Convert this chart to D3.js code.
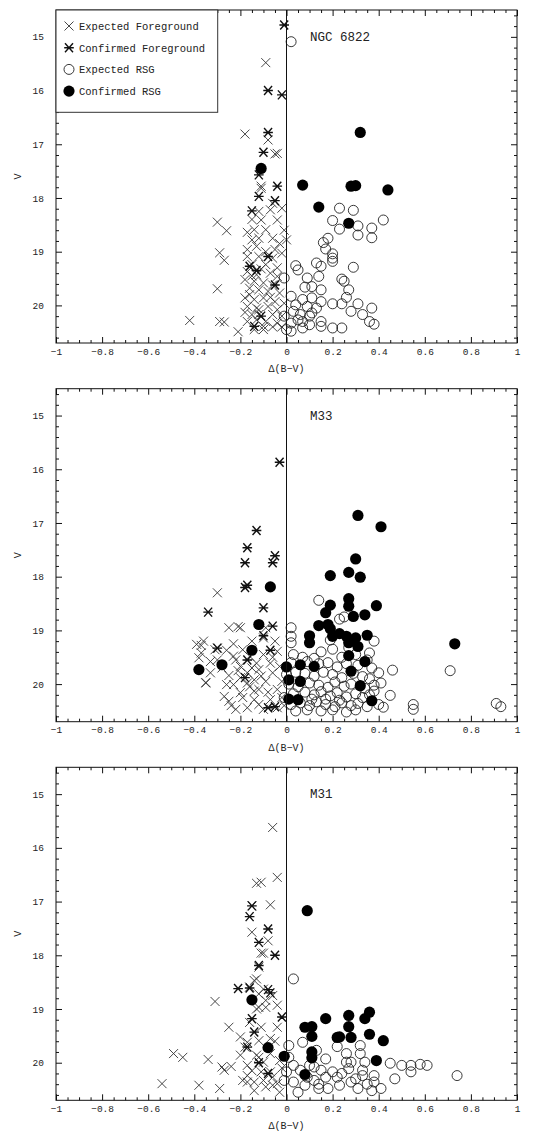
<!DOCTYPE html>
<html>
<head>
<meta charset="utf-8">
<script src="https://cdn.jsdelivr.net/npm/d3@7/dist/d3.min.js"></script>
<style>
body{margin:0;background:#fff;}
text{font-family:"Liberation Mono",monospace;fill:#222;}
</style>
</head>
<body>
<script>
// ---- data: [delta(B-V), V] ----
var ngcExpFg=[[-0.09,15.48],[-0.18,16.81],[-0.08,16.92],[-0.05,17.18],[-0.11,17.82],[-0.30,18.45],[-0.26,18.61],[-0.29,19.02],[-0.27,19.16],[-0.30,19.69],[-0.42,20.28],[-0.29,20.30],[-0.27,20.31],[-0.21,20.49],[-0.17,18.64],
[-0.04,17.17],[-0.11,17.78],[-0.06,18.10],[-0.02,18.19],[-0.12,18.25],[-0.07,18.22],[-0.04,18.41],[-0.11,18.41],[-0.14,18.59],[-0.09,18.59],[-0.01,18.60],[-0.12,18.75],[-0.06,18.75],[-0.15,18.78],[0.00,18.78],[-0.17,18.96],[-0.13,18.90],[-0.09,19.00],[-0.05,18.96],[-0.02,19.03],[-0.17,19.09],[-0.12,19.09],[-0.06,19.12],[-0.15,19.24],[-0.09,19.24],[-0.04,19.30],[-0.17,19.37],[-0.13,19.43],[-0.07,19.40],[-0.04,19.46],[-0.18,19.52],[-0.14,19.55],[-0.10,19.58],[-0.06,19.62],[-0.16,19.68],[-0.12,19.71],[-0.08,19.74],[-0.03,19.77],[-0.18,19.86],[-0.14,19.89],[-0.10,19.86],[-0.05,19.93],[-0.01,19.96],[-0.17,20.02],[-0.12,20.08],[-0.08,20.02],[-0.04,20.08],[-0.15,20.17],[-0.12,20.17],[-0.06,20.17],[-0.02,20.20],[-0.17,20.30],[-0.13,20.27],[-0.09,20.30],[-0.04,20.33],[-0.14,20.45],[-0.10,20.39],[-0.18,20.13],[-0.11,19.32],[-0.15,19.45],[-0.07,19.85],[-0.13,20.05],[-0.16,19.80],[-0.10,20.45],[-0.06,20.40],[-0.02,20.40],[-0.15,18.40],[-0.03,18.85]];
var ngcConfFg=[[-0.01,14.78],[-0.08,16.00],[-0.02,16.08],[-0.08,16.78],[-0.10,17.15],[-0.12,17.57],[-0.04,17.78],[-0.12,17.97],[-0.05,18.05],[-0.15,18.24],[-0.16,19.27],[-0.14,20.39],[-0.08,19.09],[-0.13,19.35],[-0.11,20.20],[-0.05,19.62]];
var ngcExpRsg=[[0.02,15.09],[0.23,18.19],[0.29,18.23],[0.20,18.42],[0.23,18.58],[0.31,18.52],[0.42,18.41],[0.37,18.56],[0.31,18.69],[0.37,18.74],[0.18,18.75],[0.16,18.83],[0.17,18.95],[0.20,19.04],[0.20,19.12],[0.20,19.18],[0.04,19.26],[0.05,19.34],[0.13,19.21],[0.15,19.27],[0.29,19.29],[0.24,19.51],[0.25,19.55],[0.09,19.49],[0.14,19.46],[-0.01,19.49],[0.11,19.65],[0.08,19.66],[0.15,19.71],[0.27,19.71],[0.02,19.83],[0.07,19.89],[0.11,19.86],[0.15,19.93],[0.26,19.85],[0.20,19.97],[0.24,19.97],[0.31,19.97],[0.37,20.05],[0.28,20.11],[0.33,20.17],[0.36,20.30],[0.38,20.35],[0.15,20.30],[0.15,20.39],[0.20,20.42],[0.24,20.42],[-0.01,20.20],[0.02,20.33],[0.05,20.27],[0.07,20.42],[0.10,20.36],[0.11,20.14],[0.00,20.45],[0.04,19.99],[0.09,20.02],[0.13,20.05],[0.06,20.17],[0.03,20.11],[0.10,20.20],[0.07,20.30],[0.02,20.48]];
var ngcConfRsg=[[0.32,16.78],[0.07,17.76],[0.28,17.78],[0.30,17.77],[0.44,17.85],[0.14,18.17],[0.27,18.47],[-0.11,17.45]];

var m33ExpFg=[[-0.30,18.30],[-0.25,18.95],[-0.21,18.93],[-0.20,18.95],[-0.09,18.95],[-0.10,19.14],[-0.36,19.20],[-0.37,19.28],[-0.39,19.26],[-0.30,19.33],[-0.26,19.37],[-0.38,19.51],[-0.33,19.58],[-0.33,19.79],[-0.35,19.98],[-0.25,19.84],[-0.23,19.48],[-0.20,19.67],[-0.17,19.79],[-0.14,19.92],[-0.23,20.01],[-0.20,20.16],[-0.25,20.32],[-0.22,20.47],[-0.17,20.44],[-0.14,20.29],[-0.12,20.10],[-0.09,19.95],[-0.06,19.79],[-0.03,19.67],[-0.13,19.61],[-0.10,19.45],[-0.16,19.48],[-0.19,19.36],[-0.07,19.61],[-0.04,20.10],[-0.07,20.29],[-0.10,20.47],[-0.04,20.44],[-0.27,20.23],[-0.17,19.98],[-0.14,20.13],[-0.20,19.88],[-0.26,20.01],[-0.12,19.73],[-0.04,19.39],[-0.31,19.36],[-0.37,19.42],[-0.35,19.97],[-0.22,19.55],[-0.19,20.25],[-0.16,20.05],[-0.11,19.85],[-0.08,20.15],[-0.02,20.25],[-0.21,19.75],[-0.28,19.70],[-0.15,19.70],[-0.12,20.38],[-0.24,20.40],[-0.06,19.50],[-0.02,19.95],[-0.30,19.55],[-0.01,20.40],[-0.23,19.25],[-0.15,19.20],[-0.05,19.20]];
var m33ConfFg=[[-0.03,15.87],[-0.13,17.14],[-0.17,17.46],[-0.18,17.74],[-0.06,17.74],[-0.05,17.61],[-0.17,18.16],[-0.18,18.20],[-0.10,18.58],[-0.34,18.66],[-0.06,18.92],[-0.07,19.37],[-0.08,20.44],[-0.18,19.88],[-0.30,19.33],[-0.10,19.10],[-0.05,20.42],[-0.17,19.55]];
var m33ExpRsg=[[0.02,18.95],[0.14,18.44],[0.23,18.79],[0.25,18.75],[0.46,19.74],[0.71,19.75],[0.55,20.38],[0.55,20.47],[0.91,20.36],[0.93,20.42],[0.45,20.21],[0.42,20.43],[0.41,19.98],[0.40,19.79],[0.38,19.20],[0.36,19.42],[0.38,20.13],[0.02,19.23],[0.02,19.11],
[0.03,19.45],[0.07,19.50],[0.15,19.40],[0.20,19.35],[0.24,19.50],[0.30,19.45],[0.35,19.55],[0.02,19.60],[0.09,19.58],[0.14,19.62],[0.18,19.60],[0.22,19.68],[0.26,19.62],[0.31,19.65],[0.37,19.70],[0.04,19.78],[0.08,19.80],[0.12,19.85],[0.16,19.78],[0.20,19.82],[0.24,19.88],[0.29,19.80],[0.33,19.86],[0.36,19.90],[0.01,20.00],[0.05,20.05],[0.10,19.98],[0.14,20.02],[0.18,20.06],[0.21,19.96],[0.25,20.04],[0.28,20.00],[0.34,20.08],[0.38,20.02],[0.03,20.18],[0.08,20.15],[0.12,20.20],[0.15,20.14],[0.19,20.22],[0.22,20.16],[0.26,20.24],[0.30,20.18],[0.33,20.25],[0.36,20.20],[0.02,20.38],[0.06,20.35],[0.10,20.40],[0.13,20.33],[0.17,20.38],[0.21,20.42],[0.24,20.35],[0.28,20.40],[0.31,20.36],[0.35,20.42],[0.40,20.38],[0.04,20.50],[0.09,20.48],[0.15,20.50],[0.20,20.48],[0.26,20.52],[0.30,20.48],[0.11,20.28],[0.17,20.28],[0.23,20.30],[-0.01,20.25],[0.00,19.82],[0.12,19.52],[0.27,19.32],[0.19,19.18]];
var m33ConfRsg=[[0.31,16.86],[0.41,17.07],[0.30,17.67],[0.19,17.98],[0.27,17.92],[0.32,18.01],[0.27,18.41],[0.19,18.53],[0.27,18.55],[0.39,18.54],[0.17,18.67],[0.29,18.74],[0.34,18.71],[0.14,18.91],[0.18,18.89],[0.19,18.97],[0.10,19.10],[0.20,19.11],[0.23,19.06],[0.26,19.11],[0.30,19.14],[0.35,19.09],[0.10,19.23],[0.27,19.23],[0.31,19.30],[0.73,19.25],[0.27,19.47],[0.34,19.58],[0.00,19.68],[0.06,19.64],[0.12,19.67],[0.28,19.76],[0.01,19.92],[0.06,19.95],[0.32,20.03],[0.01,20.28],[0.05,20.29],[0.37,20.31],[-0.07,18.19],[-0.12,18.89],[-0.15,19.37],[-0.28,19.64],[-0.38,19.73]];

var m31ExpFg=[[-0.06,15.62],[-0.04,16.55],[-0.13,16.66],[-0.11,16.64],[-0.15,17.08],[-0.07,17.06],[-0.15,17.57],[-0.08,17.73],[-0.10,17.96],[-0.11,17.96],[-0.13,18.44],[-0.14,18.47],[-0.16,18.59],[-0.31,18.86],[-0.12,18.72],[-0.09,18.84],[-0.13,19.00],[-0.06,18.75],[-0.04,18.93],[-0.12,18.97],[-0.09,18.97],[-0.10,18.63],[-0.25,19.34],[-0.11,19.34],[-0.04,19.34],[-0.20,19.52],[-0.07,19.55],[-0.17,19.62],[-0.18,19.71],[-0.12,19.59],[-0.49,19.83],[-0.45,19.90],[-0.34,19.94],[-0.28,20.08],[-0.27,20.14],[-0.54,20.39],[-0.38,20.42],[-0.29,20.48],[-0.20,19.86],[-0.12,19.90],[-0.07,19.83],[-0.03,19.96],[-0.24,20.07],[-0.17,20.05],[-0.11,20.17],[-0.06,20.27],[-0.19,20.33],[-0.14,20.36],[-0.09,20.45],[-0.04,20.39],[-0.17,20.36],[-0.17,20.24],[-0.13,19.86],[-0.10,19.99],[-0.10,20.33],[-0.07,20.17],[-0.06,20.42],[-0.14,20.52],[-0.03,20.55],[-0.12,18.22],[-0.16,19.25],[-0.05,19.60],[-0.15,20.15],[-0.02,20.10]];
var m31ConfFg=[[-0.16,17.28],[-0.08,17.51],[-0.12,17.76],[-0.05,18.00],[-0.12,18.19],[-0.21,18.62],[-0.16,18.61],[-0.08,18.64],[-0.02,19.15],[-0.15,19.18],[-0.14,19.43],[-0.17,19.71],[-0.08,20.20],[-0.15,17.08],[-0.07,18.70],[-0.12,20.00]];
var m31ExpRsg=[[0.03,18.44],[0.01,19.68],[0.07,19.62],[0.13,19.77],[0.17,19.93],[0.22,19.70],[0.26,19.83],[0.32,19.83],[0.34,19.99],[0.26,19.99],[0.28,19.99],[0.45,20.01],[0.50,20.05],[0.54,20.05],[0.54,20.17],[0.58,20.03],[0.61,20.05],[0.47,20.30],[0.74,20.24],[0.38,20.24],[0.38,20.36],[0.41,20.48],[0.33,20.14],[0.33,20.24],[0.03,20.05],[0.06,20.14],[0.12,20.08],[0.15,20.14],[0.20,20.17],[0.27,20.11],[0.00,20.17],[-0.01,20.33],[0.03,20.36],[0.08,20.42],[0.12,20.33],[0.14,20.48],[0.18,20.48],[0.23,20.42],[0.28,20.36],[0.31,20.48],[0.37,20.52],[0.05,20.55],[0.22,20.27],[0.09,20.27],[0.17,20.27],[0.01,19.90],[0.32,19.68],[0.14,20.40],[0.10,20.05],[0.24,20.20],[0.30,20.30],[0.35,20.40]];
var m31ConfRsg=[[0.09,17.17],[0.17,19.18],[0.27,19.12],[0.36,19.06],[0.34,19.18],[0.08,19.34],[0.11,19.33],[0.11,19.51],[0.27,19.33],[0.22,19.53],[0.23,19.52],[0.28,19.53],[0.36,19.47],[0.42,19.59],[0.11,19.80],[0.11,19.91],[0.39,19.96],[-0.01,19.88],[0.08,20.22],[-0.15,18.83],[-0.08,19.72]];

var galaxies=["NGC 6822","M33","M31"];
var legendLabels=["Expected Foreground","Confirmed Foreground","Expected RSG","Confirmed RSG"];
var xDomain=[-1,1], vDomain=[14.5,20.7];

var panels=[
  {name:galaxies[0],sets:[ngcExpFg,ngcConfFg,ngcExpRsg,ngcConfRsg]},
  {name:galaxies[1],sets:[m33ExpFg,m33ConfFg,m33ExpRsg,m33ConfRsg]},
  {name:galaxies[2],sets:[m31ExpFg,m31ConfFg,m31ExpRsg,m31ConfRsg]}
];

var svg=d3.select("body").append("svg").attr("width",560).attr("height",1138);
var left=56,right=517,ph=333;
var tops=[10,388.7,767.3];
var x=d3.scaleLinear().domain(xDomain).range([left,right]);

var xMajor=d3.ticks(-1,1,10);
var xMinor=d3.range(-20,21).map(function(i){return i*0.05;}).filter(function(v){return Math.abs(Math.round(v*5)-v*5)>1e-6;});
var yMajor=[15,16,17,18,19,20];
var yMinor=d3.range(73,104).map(function(i){return i*0.2;}).filter(function(v){return Math.abs(Math.round(v)-v)>1e-6;});

var crossPath="M-4.5,-4.5L4.5,4.5M-4.5,4.5L4.5,-4.5";
var starPath="M-4,-4.5L4,4.5M-4,4.5L4,-4.5M-4.8,0L4.8,0";

function drawSym(g,k,px,py){
  if(k==0){
    g.append("path").attr("d",crossPath).attr("transform","translate("+px+","+py+")")
     .attr("fill","none").attr("stroke","#333").attr("stroke-width",0.9);
  }else if(k==1){
    g.append("path").attr("d",starPath).attr("transform","translate("+px+","+py+")")
     .attr("fill","none").attr("stroke","#111").attr("stroke-width",1.4);
  }else if(k==2){
    g.append("circle").attr("cx",px).attr("cy",py).attr("r",5)
     .attr("fill","none").attr("stroke","#222").attr("stroke-width",0.9);
  }else{
    g.append("circle").attr("cx",px).attr("cy",py).attr("r",5.6).attr("fill","#000");
  }
}

function styleAxis(a){
  a.select(".domain").remove();
  a.attr("color","#111");
  a.selectAll("text").attr("font-family","Liberation Mono, monospace").attr("font-size",9.5).attr("fill","#333");
}

panels.forEach(function(p,i){
  var top=tops[i];
  var y=d3.scaleLinear().domain(vDomain).range([top,top+ph]);
  var g=svg.append("g");

  // points
  var pts=g.append("g");
  p.sets.forEach(function(set,k){
    set.forEach(function(d){ drawSym(pts,k,x(d[0]),y(d[1])); });
  });

  // zero line
  g.append("line").attr("x1",x(0)).attr("x2",x(0)).attr("y1",top).attr("y2",top+ph)
   .attr("stroke","#111").attr("stroke-width",1);

  // ticks, all inside
  var b=g.append("g").attr("transform","translate(0,"+(top+ph)+")")
    .call(d3.axisBottom(x).tickValues(xMajor).tickSize(-6).tickPadding(5).tickFormat(d3.format("~g")));
  styleAxis(b);
  var b2=g.append("g").attr("transform","translate(0,"+(top+ph)+")")
    .call(d3.axisBottom(x).tickValues(xMinor).tickSize(-3).tickFormat(""));
  styleAxis(b2);
  var t=g.append("g").attr("transform","translate(0,"+top+")")
    .call(d3.axisTop(x).tickValues(xMajor).tickSize(-6).tickFormat(""));
  styleAxis(t);
  var t2=g.append("g").attr("transform","translate(0,"+top+")")
    .call(d3.axisTop(x).tickValues(xMinor).tickSize(-3).tickFormat(""));
  styleAxis(t2);
  var l=g.append("g").attr("transform","translate("+left+",0)")
    .call(d3.axisLeft(y).tickValues(yMajor).tickSize(-6).tickPadding(12).tickFormat(d3.format("d")));
  styleAxis(l);
  var l2=g.append("g").attr("transform","translate("+left+",0)")
    .call(d3.axisLeft(y).tickValues(yMinor).tickSize(-3).tickFormat(""));
  styleAxis(l2);
  var r=g.append("g").attr("transform","translate("+right+",0)")
    .call(d3.axisRight(y).tickValues(yMajor).tickSize(-6).tickFormat(""));
  styleAxis(r);
  var r2=g.append("g").attr("transform","translate("+right+",0)")
    .call(d3.axisRight(y).tickValues(yMinor).tickSize(-3).tickFormat(""));
  styleAxis(r2);

  // frame
  g.append("rect").attr("x",left).attr("y",top).attr("width",right-left).attr("height",ph)
   .attr("fill","none").attr("stroke","#111").attr("stroke-width",1);

  // labels
  g.append("text").attr("transform","translate(21,"+(top+ph/2)+") rotate(-90)")
   .attr("text-anchor","middle").attr("font-size",10).text("V");
  g.append("text").attr("x",x(0)).attr("y",top+ph+29).attr("text-anchor","middle")
   .attr("font-size",10).text("\u0394(B\u2212V)");
  g.append("text").attr("x",310).attr("y",top+31).attr("font-size",12.5).text(p.name);

  // legend only on first panel
  if(i==0){
    var lg=g.append("g");
    lg.append("rect").attr("x",left).attr("y",top).attr("width",161.7).attr("height",102.3)
      .attr("fill","#fff").attr("stroke","#333").attr("stroke-width",1);
    legendLabels.forEach(function(s,k){
      var cy=top+16+k*21.7;
      drawSym(lg,k,69,cy);
      lg.append("text").attr("x",79).attr("y",cy+3.8).attr("font-size",10.5).text(s);
    });
  }
});
</script>
</body>
</html>
